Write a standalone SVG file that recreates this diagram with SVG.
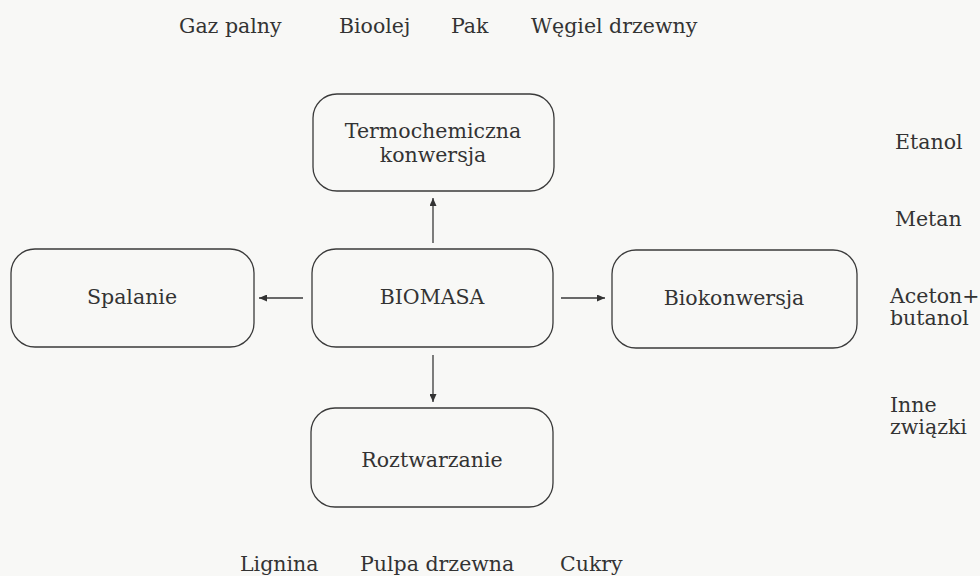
<svg xmlns="http://www.w3.org/2000/svg" width="980" height="576" viewBox="0 0 980 576">
<style>
.box{fill:none;stroke:#3a3a3a;stroke-width:1.3}
.t{font-family:"DejaVu Serif","Liberation Serif",serif;font-size:20.5px;fill:#333}
.c{text-anchor:middle}
.ln{stroke:#3a3a3a;stroke-width:1.3;fill:none;marker-end:url(#ah)}
</style>
<defs>
<marker id="ah" markerWidth="8" markerHeight="7" refX="8" refY="3.5" orient="auto" markerUnits="userSpaceOnUse">
<path d="M0,0 L8,3.5 L0,7 Z" fill="#333"/>
</marker>
</defs>
<rect width="980" height="576" fill="#f8f8f6"/>
<g id="products-top">
<text class="t" x="179" y="33">Gaz palny</text>
<text class="t" x="339" y="33">Bioolej</text>
<text class="t" x="451" y="33">Pak</text>
<text class="t" x="531" y="33">Węgiel drzewny</text>
</g>
<g id="products-right">
<text class="t" x="895" y="149">Etanol</text>
<text class="t" x="895" y="226">Metan</text>
<text class="t" x="890" y="303">Aceton+</text>
<text class="t" x="890" y="325">butanol</text>
<text class="t" x="890" y="412">Inne</text>
<text class="t" x="890" y="434">związki</text>
</g>
<g id="products-bottom">
<text class="t" x="240" y="571">Lignina</text>
<text class="t" x="360" y="571">Pulpa drzewna</text>
<text class="t" x="560" y="571">Cukry</text>
</g>
<g id="termo">
<rect class="box" x="313" y="94" width="241" height="97" rx="24"/>
<text class="t c" x="433" y="138">Termochemiczna</text>
<text class="t c" x="433" y="162">konwersja</text>
</g>
<g id="spalanie">
<rect class="box" x="11" y="249" width="243" height="98" rx="24"/>
<text class="t c" x="132" y="304">Spalanie</text>
</g>
<g id="biomasa">
<rect class="box" x="312" y="249" width="241" height="98" rx="24"/>
<text class="t c" x="432" y="304">BIOMASA</text>
</g>
<g id="biokonwersja">
<rect class="box" x="612" y="250" width="245" height="98" rx="24"/>
<text class="t c" x="734" y="305">Biokonwersja</text>
</g>
<g id="roztwarzanie">
<rect class="box" x="311" y="408" width="242" height="99" rx="24"/>
<text class="t c" x="432" y="467">Roztwarzanie</text>
</g>
<g id="connectors">
<line class="ln" x1="433" y1="243" x2="433" y2="198"/>
<line class="ln" x1="303" y1="298" x2="259" y2="298"/>
<line class="ln" x1="561" y1="298" x2="605" y2="298"/>
<line class="ln" x1="433" y1="355" x2="433" y2="402"/>
</g>
</svg>
